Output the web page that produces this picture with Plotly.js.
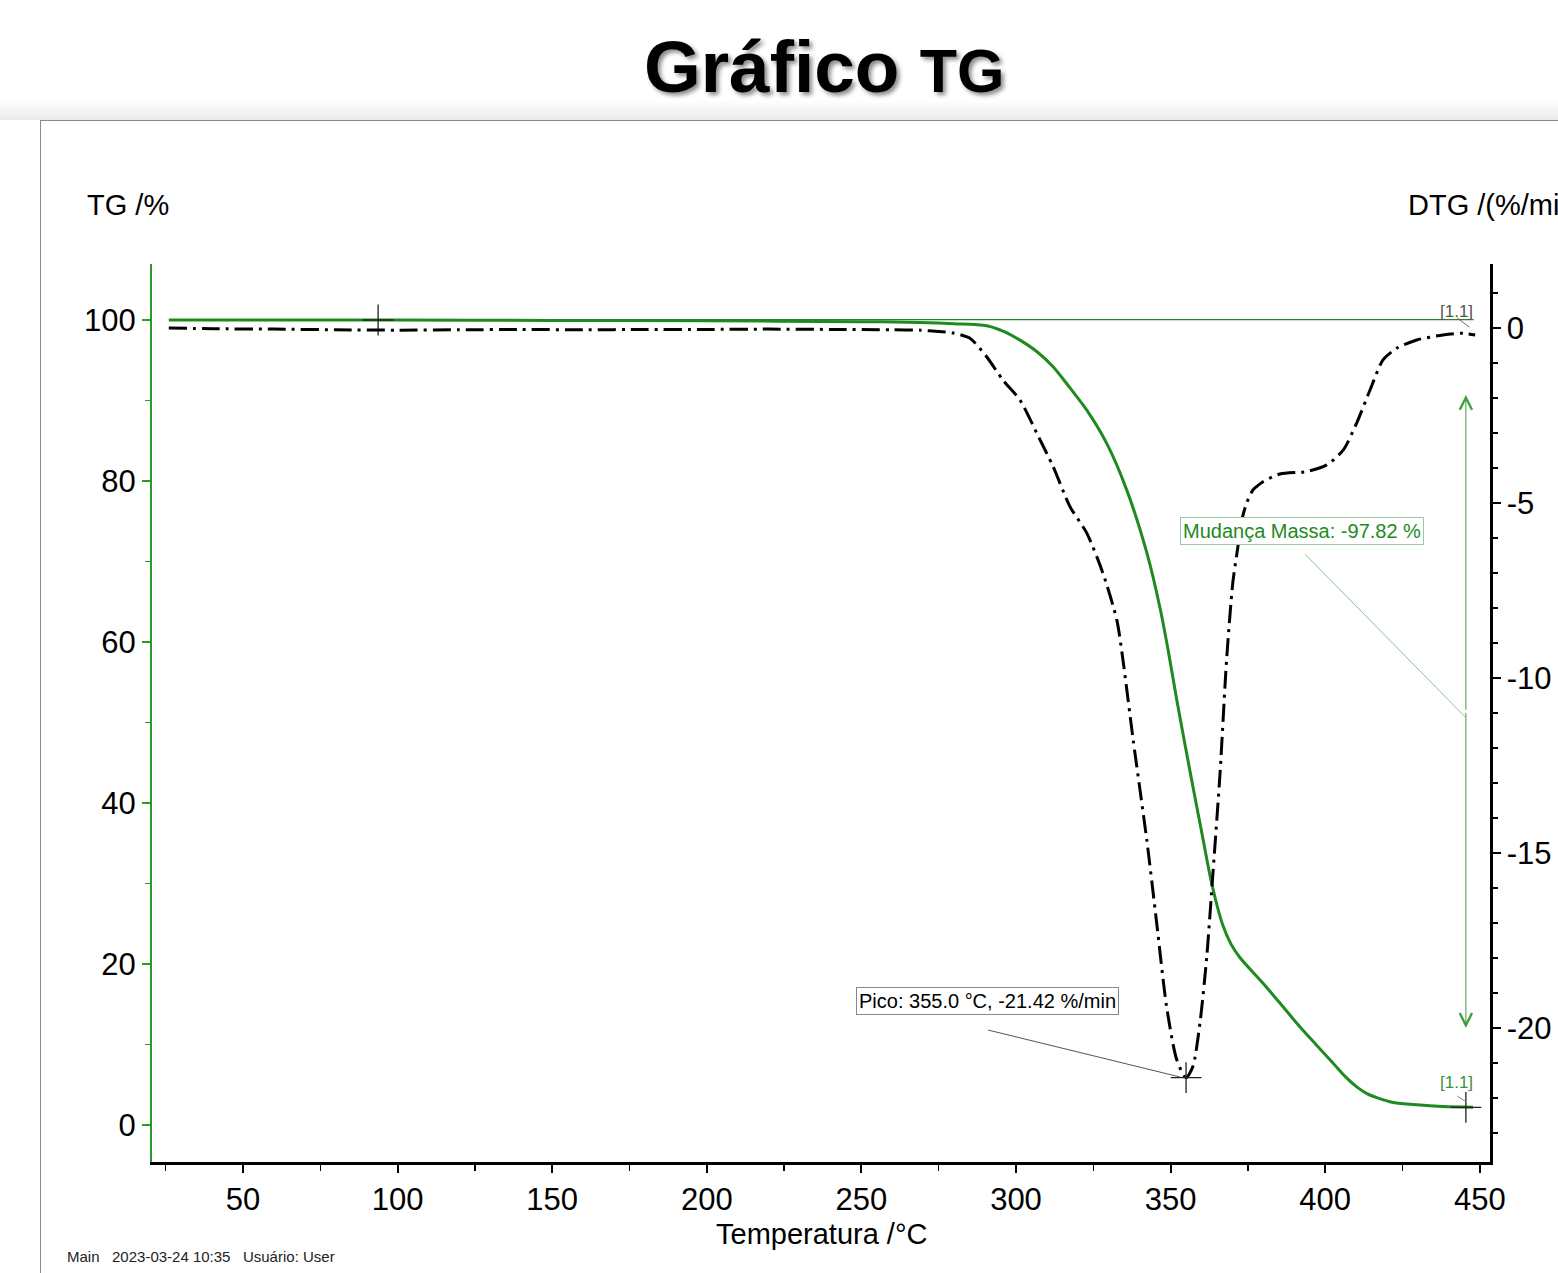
<!DOCTYPE html>
<html>
<head>
<meta charset="utf-8">
<script src="https://cdn.plot.ly/plotly-3.0.1.min.js"></script>
<style>
  html, body { margin: 0; padding: 0; background: #ffffff; }
  #wrap { position: relative; width: 1558px; height: 1273px; overflow: hidden; background: #fff; }
  #band { position: absolute; left: 0; top: 100px; width: 1558px; height: 20px;
          background: linear-gradient(#ffffff, #ebebeb); }
  #frame { position: absolute; left: 40px; top: 120px; width: 1600px; height: 1300px;
           border-left: 1.5px solid #8a8a8a; border-top: 1.5px solid #8a8a8a; background: #fff; }
  #chart { position: absolute; left: 0; top: 0; width: 1558px; height: 1273px; }
</style>
</head>
<body>
<div id="wrap">
  <div id="band"></div>
  <div id="frame"></div>
  <div id="chart"></div>
</div>
<script>
// ---- Data ----
const tgTemp = [26, 50, 100, 150, 200, 250, 269, 280, 290.5, 296, 301.3, 307, 312, 317, 322.9, 329.3, 335.8, 342.3, 346.6, 349.2, 352, 356.3, 360.5, 363.3, 366.9, 369.5, 372.4, 379.9, 385, 391.8, 397, 402.5, 406.5, 410.3, 413.5, 416.7, 422, 429.7, 438, 447.8];
const tgValues = [100.0, 100.0, 100.0, 99.95, 99.9, 99.8, 99.7, 99.55, 99.3, 98.6, 97.5, 96.0, 94.2, 91.8, 88.8, 84.7, 78.9, 71.1, 64.2, 59.0, 52.8, 43.9, 35.5, 30.0, 24.8, 22.5, 20.8, 17.6, 15.3, 12.2, 10.0, 7.7, 6.0, 4.7, 3.9, 3.4, 2.8, 2.5, 2.3, 2.2];

const dtgTemp = [26, 40, 60, 80, 100, 120, 140, 160, 180, 200, 220, 240, 260, 269, 275, 279.6, 285.1, 290.5, 295.8, 301.3, 306.7, 312, 317.5, 322.9, 328.1, 332.6, 334.6, 337.9, 342.3, 345.5, 348.7, 352, 355, 357.2, 359.5, 361.7, 363.7, 366, 368.1, 370.1, 371.3, 373.3, 374.6, 376.6, 377.8, 379.9, 385.4, 394, 400.5, 405.8, 410.2, 414.5, 418.7, 423.1, 429.6, 438.1, 444.6, 448.5];
const dtgValues = [0.0, -0.02, -0.03, -0.05, -0.06, -0.05, -0.04, -0.05, -0.04, -0.04, -0.03, -0.04, -0.05, -0.06, -0.1, -0.14, -0.29, -0.82, -1.49, -2.06, -3.0, -3.96, -5.11, -5.86, -7.0, -8.34, -9.49, -11.77, -14.63, -17.0, -19.39, -20.91, -21.42, -21.1, -19.86, -17.96, -15.57, -12.71, -9.49, -7.29, -6.53, -5.39, -5.0, -4.63, -4.53, -4.39, -4.17, -4.1, -3.91, -3.49, -2.71, -1.77, -0.91, -0.58, -0.34, -0.2, -0.15, -0.2];

// evaluation markers
const massStart = [93.7, 100.0];       // [T, TG]
const massEnd = [445.5, 2.18];         // [T, TG]
const massChange = -97.82;
const peak = [355.0, -21.42];          // [T, DTG]

const xTickVals = [50, 100, 150, 200, 250, 300, 350, 400, 450];
const tgTickVals = [0, 20, 40, 60, 80, 100];
const dtgTickVals = [-20, -15, -10, -5, 0];

const FONT = '"Liberation Sans", Arial, sans-serif';
const GREEN = '#1f8a1f';
const LGREEN = '#3f9f3f';

const traces = [
  { x: tgTemp, y: tgValues, type: 'scatter', mode: 'lines', yaxis: 'y',
    line: { color: GREEN, width: 3, shape: 'spline', smoothing: 0.8 }, hoverinfo: 'skip' },
  { x: dtgTemp, y: dtgValues, type: 'scatter', mode: 'lines', yaxis: 'y2',
    line: { color: '#000', width: 3, dash: '18px,6px,3px,6px', shape: 'spline', smoothing: 0.7 }, hoverinfo: 'skip' },
  // mass change reference line
  { x: [massStart[0], massEnd[0] + 2.5], y: [massStart[1] + 0.06, massStart[1] + 0.06], type: 'scatter', mode: 'lines', yaxis: 'y',
    line: { color: GREEN, width: 1.2 }, hoverinfo: 'skip' },
  // crosses on TG
  { x: [massStart[0], massEnd[0]], y: [massStart[1], massEnd[1]], type: 'scatter', mode: 'markers', yaxis: 'y',
    marker: { symbol: 'cross-thin', size: 22, line: { color: '#222', width: 1.3 } }, hoverinfo: 'skip' },
  // cross on DTG peak
  { x: [peak[0]], y: [peak[1]], type: 'scatter', mode: 'markers', yaxis: 'y2',
    marker: { symbol: 'cross-thin', size: 22, line: { color: '#222', width: 1.3 } }, hoverinfo: 'skip' }
];

const arrowMid = (90.7 + 12.05) / 2;
const layout = {
  width: 1558, height: 1273,
  paper_bgcolor: 'rgba(0,0,0,0)', plot_bgcolor: 'rgba(0,0,0,0)',
  margin: { l: 152, r: 68, t: 264, b: 111 },
  showlegend: false,
  title: {
    text: '<b>Gráfico <span style="font-size:61px">TG</span></b>',
    font: { family: '"Liberation Sans", Arial, sans-serif', size: 73, color: '#000', shadow: '3px 3px 4px rgba(0,0,0,0.45)' },
    xref: 'container', x: 0.529, xanchor: 'center',
    yref: 'container', y: 0.948, yanchor: 'middle'
  },
  font: { family: FONT, color: '#000' },
  xaxis: {
    range: [20.57, 453.3], showgrid: false, zeroline: false,
    showline: true, linecolor: '#000', linewidth: 2.5,
    tickmode: 'array', tickvals: xTickVals, ticktext: xTickVals.map(String),
    ticks: 'outside', ticklen: 8, tickwidth: 2, tickcolor: '#000',
    minor: { dtick: 25, tick0: 0, ticks: 'outside', ticklen: 6, tickwidth: 1.5, tickcolor: '#000' },
    tickfont: { family: FONT, size: 31, color: '#000' }
  },
  yaxis: {
    range: [-4.6, 106.96], showgrid: false, zeroline: false,
    showline: true, linecolor: '#2a9a2a', linewidth: 2,
    tickmode: 'array', tickvals: tgTickVals, ticktext: tgTickVals.map(String),
    ticks: 'outside', ticklen: 8, tickwidth: 2, tickcolor: '#2a9a2a',
    minor: { dtick: 10, tick0: 0, ticks: 'outside', ticklen: 5, tickwidth: 1.5, tickcolor: '#2a9a2a' },
    tickfont: { family: FONT, size: 31, color: '#000' }
  },
  yaxis2: {
    overlaying: 'y', side: 'right',
    range: [-23.83, 1.83], showgrid: false, zeroline: false,
    showline: true, linecolor: '#000', linewidth: 2.5,
    tickmode: 'array', tickvals: dtgTickVals, ticktext: dtgTickVals.map(String),
    ticks: 'outside', ticklen: 8, tickwidth: 2, tickcolor: '#000',
    minor: { dtick: 1, tick0: 0, ticks: 'outside', ticklen: 5, tickwidth: 1.5, tickcolor: '#000' },
    tickfont: { family: FONT, size: 31, color: '#000' }
  },
  shapes: [
    // leader line for mass change label
    { type: 'line', xref: 'x', yref: 'y', x0: 393.5, y0: 70.9, x1: massEnd[0], y1: 50.6,
      line: { color: '#8fc08f', width: 1 } },
    // leader line for peak label
    { type: 'line', xref: 'x', yref: 'y2', x0: 291, y0: -20.06, x1: 353, y1: -21.4,
      line: { color: '#555', width: 1 } },
    // small ticks from [1.1] labels
    { type: 'line', xref: 'x', yref: 'y', x0: 442.7, y0: 100.25, x1: 446.6, y1: 99.13,
      line: { color: '#666', width: 1 } },
    { type: 'line', xref: 'x', yref: 'y', x0: 442.7, y0: 3.6, x1: 445.6, y1: 2.86,
      line: { color: '#888', width: 1 } }
  ],
  annotations: [
    { xref: 'paper', yref: 'paper', x: -0.0179, y: 1.0657, xanchor: 'center', yanchor: 'middle',
      text: 'TG /%', showarrow: false, font: { family: FONT, size: 29, color: '#000' } },
    { xref: 'paper', yref: 'paper', x: 0.9372, y: 1.0657, xanchor: 'left', yanchor: 'middle',
      text: 'DTG /(%/min)', showarrow: false, font: { family: FONT, size: 29, color: '#000' } },
    { xref: 'paper', yref: 'paper', x: 0.5, y: -0.08, xanchor: 'center', yanchor: 'middle',
      text: 'Temperatura /°C', showarrow: false, font: { family: FONT, size: 29, color: '#000' } },
    { xref: 'paper', yref: 'paper', x: -0.065, y: -0.1047, xanchor: 'left', yanchor: 'middle',
      text: 'Main&nbsp;&nbsp;&nbsp;2023-03-24 10:35&nbsp;&nbsp;&nbsp;Usuário: User', showarrow: false,
      font: { family: FONT, size: 15, color: '#222' } },
    // mass change label
    { xref: 'x', yref: 'y', x: 392.5, y: 73.8, xanchor: 'center', yanchor: 'middle',
      text: 'Mudança Massa: ' + massChange.toFixed(2) + ' %', showarrow: false,
      font: { family: FONT, size: 20, color: GREEN }, bgcolor: '#fff', bordercolor: '#9fc79f', borderwidth: 1, borderpad: 2 },
    // peak label
    { xref: 'x', yref: 'y2', x: 290.8, y: -19.24, xanchor: 'center', yanchor: 'middle',
      text: 'Pico: ' + peak[0].toFixed(1) + ' °C, ' + peak[1].toFixed(2) + ' %/min', showarrow: false,
      font: { family: FONT, size: 20, color: '#000' }, bgcolor: '#fff', bordercolor: '#888', borderwidth: 1, borderpad: 2 },
    // [1.1] labels
    { xref: 'x', yref: 'y', x: 442.6, y: 101.0, xanchor: 'center', yanchor: 'middle',
      text: '[1.1]', showarrow: false, font: { family: FONT, size: 17, color: '#555' } },
    { xref: 'x', yref: 'y', x: 442.6, y: 5.3, xanchor: 'center', yanchor: 'middle',
      text: '[1.1]', showarrow: false, font: { family: FONT, size: 17, color: '#3a913a' } },
    // double-headed vertical arrow (mass change)
    { xref: 'x', yref: 'y', axref: 'x', ayref: 'y', x: massEnd[0], y: 90.7, ax: massEnd[0], ay: arrowMid,
      text: '', showarrow: true, arrowhead: 5, arrowsize: 2.4, arrowwidth: 1, arrowcolor: LGREEN, standoff: 0, startstandoff: 0 },
    { xref: 'x', yref: 'y', axref: 'x', ayref: 'y', x: massEnd[0], y: 12.05, ax: massEnd[0], ay: arrowMid,
      text: '', showarrow: true, arrowhead: 5, arrowsize: 2.4, arrowwidth: 1, arrowcolor: LGREEN, standoff: 0, startstandoff: 0 }
  ]
};

Plotly.newPlot('chart', traces, layout, { displayModeBar: false, staticPlot: true });
</script>
</body>
</html>
